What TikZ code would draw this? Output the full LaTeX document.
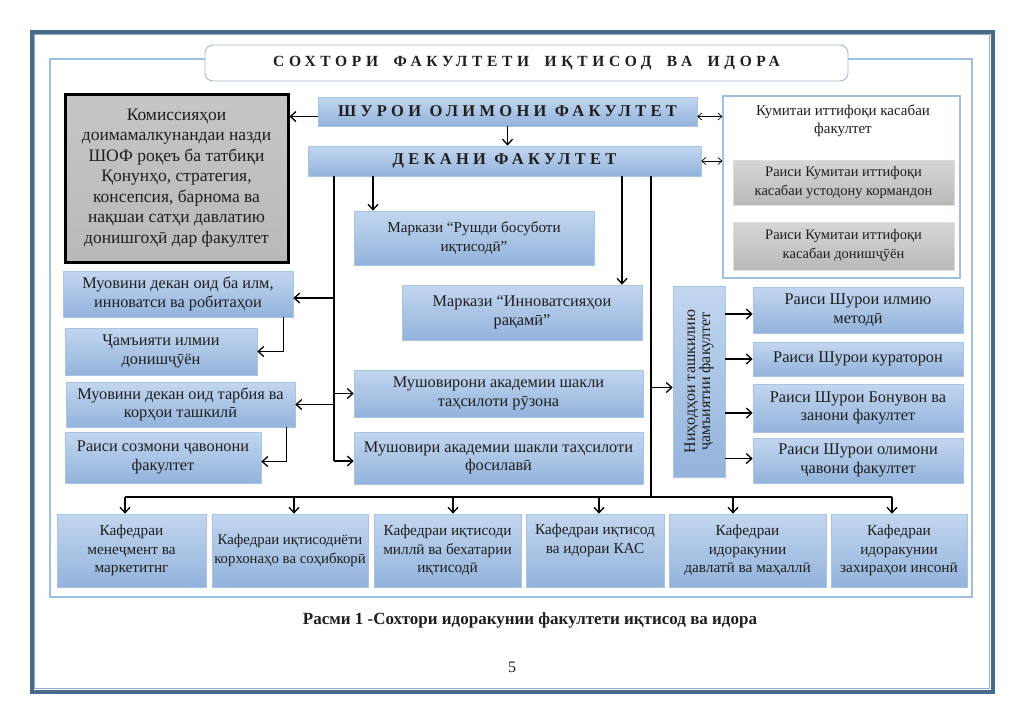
\documentclass[tikz,border=0pt]{standalone}
\usepackage{fontspec}
\usepackage{graphicx}
\setmainfont{Liberation Serif}
\newfontfamily\spacedA[LetterSpace=30]{Liberation Serif}
\newfontfamily\spacedB[LetterSpace=26]{Liberation Serif}
\usetikzlibrary{arrows.meta,calc}
\definecolor{btop}{HTML}{C2D6EF}
\definecolor{bbot}{HTML}{93B3DC}
\definecolor{bbord}{HTML}{A9C3E4}
\definecolor{gtop}{HTML}{D6D6D6}
\definecolor{gbot}{HTML}{B9B9B9}
\definecolor{frameout}{HTML}{4A6A8A}
\definecolor{framein}{HTML}{8FAAC4}
\definecolor{lframe}{HTML}{9DC1E2}
\definecolor{txt}{HTML}{1E1E1E}
\begin{document}
\begin{tikzpicture}[x=1pt,y=-1pt,
  bbox/.style={draw=bbord, line width=0.6pt, top color=btop, bottom color=bbot, text=txt, align=center, inner sep=1pt, font=\fontsize{16.3}{18.5}\selectfont},
  gbox/.style={draw=gtop!80!white, line width=0.6pt, top color=gtop, bottom color=gbot, text=txt, align=center, inner sep=1pt, font=\fontsize{14.5}{19}\selectfont},
  plain/.style={text=txt, align=center, inner sep=1pt},
  arr/.style={line width=1.3pt, -{Straight Barb[length=5.5pt,width=10pt,line width=1.3pt]}},
  dbl/.style={line width=0.7pt, {Straight Barb[length=4pt,width=7pt,line width=0.7pt]}-{Straight Barb[length=4pt,width=7pt,line width=0.7pt]}},
  trunk/.style={line width=1.3pt}
]
\useasboundingbox (0,0) rectangle (1024,724);
\fill[white] (0,0) rectangle (1024,724);
% page frames
\draw[frameout, line width=4pt] (31.5,31.5) rectangle (992.5,691.5);
\draw[framein, line width=1pt] (34.8,34.8) rectangle (989.2,688.2);
\draw[lframe, line width=1.2pt] (50,59) rectangle (972,597);

% title
\node[draw=lframe!80!black!70, line width=0.9pt, rounded corners=8pt, fill=white, minimum width=643pt, minimum height=36pt, text=txt, font=\fontsize{15.5}{18}\spacedA\bfseries] (title) at (526.5,63) {СОХТОРИ\hspace{7pt} ФАКУЛТЕТИ\hspace{7pt} ИҚТИСОД\hspace{7pt} ВА\hspace{7pt} ИДОРА};

% commission
\node[draw=black, line width=3pt, top color=gray!45, bottom color=gray!55, text=txt, align=center, minimum width=223pt, minimum height=168pt, font=\fontsize{17.5}{20.5}\selectfont] (comm) at (176.5,178) {Комиссияҳои\\доимамалкунандаи назди\\ШОФ роқеъ ба татбиқи\\Қонунҳо, стратегия,\\консепсия, барнома ва\\нақшаи сатҳи давлатию\\донишгоҳӣ дар факултет};

% shuro & dekan
\node[bbox, minimum width=379pt, minimum height=29pt, font=\fontsize{16.5}{18}\spacedB\bfseries] (shuro) at (507.5,111.5) {ШУРОИ ОЛИМОНИ ФАКУЛТЕТ};
\node[bbox, minimum width=393pt, minimum height=30pt, font=\fontsize{16.5}{18}\spacedB\bfseries] (dekan) at (504.5,161) {ДЕКАНИ ФАКУЛТЕТ};

% kumita
\node[draw=lframe, line width=1.2pt, fill=white, minimum width=237pt, minimum height=182pt] (kum) at (841.5,187) {};
\node[plain, font=\fontsize{15}{18}\selectfont] (kumt) at (843,121) {Кумитаи иттифоқи касабаи\\факултет};
\node[gbox, minimum width=221pt, minimum height=45pt] (g1) at (843.5,182.5) {Раиси Кумитаи иттифоқи\\касабаи устодону кормандон};
\node[gbox, minimum width=221pt, minimum height=48pt] (g2) at (843.5,246) {Раиси Кумитаи иттифоқи\\касабаи донишҷӯён};

% centers
\node[bbox, minimum width=240pt, minimum height=54pt, font=\fontsize{15.2}{18.5}\selectfont] (rushd) at (474,238) {Маркази “Рушди босуботи\\иқтисодӣ”};
\node[bbox, minimum width=240pt, minimum height=55pt] (innov) at (522,312.5) {Маркази “Инноватсияҳои\\рақамӣ”};

% left column
\node[bbox, minimum width=230pt, minimum height=46pt] (muov1) at (178,294) {Муовини декан оид ба илм,\\инноватси ва робитаҳои};
\node[bbox, minimum width=192pt, minimum height=47pt] (jam) at (161,351.5) {Ҷамъияти илмии\\донишҷӯён};
\node[bbox, minimum width=229pt, minimum height=45pt] (muov2) at (180.5,404.5) {Муовини декан оид тарбия ва\\корҳои ташкилӣ};
\node[bbox, minimum width=196pt, minimum height=51pt] (raisi) at (163,457.5) {Раиси созмони ҷавонони\\факултет};

% advisers
\node[bbox, minimum width=289pt, minimum height=47pt] (mush1) at (498.5,393.5) {Мушовирони академии шакли\\таҳсилоти рӯзона};
\node[bbox, minimum width=289pt, minimum height=52pt] (mush2) at (498.5,458) {Мушовири академии шакли таҳсилоти\\фосилавӣ};

% public bodies
\node[bbox, minimum width=52pt, minimum height=191pt, font=\fontsize{16}{18}\selectfont] (nihod) at (699,381.5) {\rotatebox{90}{\begin{tabular}{@{}c@{}}Ниҳодҳои ташкилию\\[-3pt]ҷамъиятии факултет\end{tabular}}};
\node[bbox, minimum width=210pt, minimum height=46pt] (r1) at (858,310) {Раиси Шурои илмию\\методӣ};
\node[bbox, minimum width=210pt, minimum height=34pt] (r2) at (858,359) {Раиси Шурои кураторон};
\node[bbox, minimum width=210pt, minimum height=48pt] (r3) at (858,408) {Раиси Шурои Бонувон ва\\занони факултет};
\node[bbox, minimum width=210pt, minimum height=45pt] (r4) at (858,460.5) {Раиси Шурои олимони\\ҷавони факултет};

% departments
\tikzset{kbox/.style={bbox, minimum height=73pt, font=\fontsize{15.3}{18.5}\selectfont}}
\node[kbox, minimum width=149pt] (k1) at (131.5,550.5) {Кафедраи\\менеҷмент ва\\маркетитнг};
\node[kbox, minimum width=156pt, font=\fontsize{14.8}{18.5}\selectfont] (k2) at (290,550.5) {Кафедраи иқтисодиёти\\корхонаҳо ва соҳибкорӣ};
\node[kbox, minimum width=147pt] (k3) at (447.5,550.5) {Кафедраи иқтисоди\\миллӣ ва бехатарии\\иқтисодӣ};
\node[kbox, minimum width=138pt] (k4) at (595,550.5) {Кафедраи иқтисод\\ва идораи КАС\\\strut};
\node[kbox, minimum width=157pt] (k5) at (747.5,550.5) {Кафедраи\\идоракунии\\давлатӣ ва маҳаллӣ};
\node[kbox, minimum width=136pt] (k6) at (899,550.5) {Кафедраи\\идоракунии\\захираҳои инсонӣ};

% caption & page number
\node[plain, font=\fontsize{17}{20}\selectfont\bfseries] (cap) at (530,620) {Расми 1 -Сохтори идоракунии факултети иқтисод ва идора};
\node[plain, font=\fontsize{16}{18}\selectfont] (pnum) at (512,667) {5};

% coordinates
\coordinate (xL) at (334,0);
\coordinate (xR) at (373,0);
\coordinate (xI) at (622,0);
\coordinate (xB) at (651,0);
\coordinate (vL) at (334,461);
\coordinate (busL) at (125,497);
\coordinate (busR) at (892,497);

% connectors top
\draw[arr] ([yshift=-5pt]shuro.west) -- ([yshift=-5pt]shuro.west -| comm.east);
\draw[arr] (shuro.south) -- (shuro.south |- dekan.north);
\draw[dbl] ([yshift=-5pt]shuro.east) -- ([yshift=-5pt]shuro.east -| kum.west);
\draw[dbl] (dekan.east) -- (dekan.east -| kum.west);

% trunks
\draw[trunk] (dekan.south -| xL) -- (vL);
\draw[arr] (dekan.south -| xR) -- (rushd.north -| xR);
\draw[arr] (dekan.south -| xI) -- (innov.north -| xI);
\draw[trunk] (dekan.south -| xB) -- (busL -| xB);
\draw[trunk] (busL) -- (busR);

% left branches
\draw[arr] ([yshift=-4pt]muov1.east -| xL) -- ([yshift=-4pt]muov1.east);
\draw[arr] (muov2.east -| xL) -- (muov2.east);
\draw[arr] (mush1.west -| xL) -- (mush1.west);
\draw[arr] (vL) -- (vL -| mush2.west);
\draw[arr] ([xshift=-10pt]muov1.south east) |- (jam.east);
\draw[arr] ([xshift=-9pt]muov2.south east) |- ([yshift=-4pt]raisi.east);

% right branches
\draw[arr] ([yshift=-6pt]nihod.west -| xB) -- ([yshift=-6pt]nihod.west);
\draw[arr] ([yshift=-4pt]r1.west -| nihod.east) -- ([yshift=-4pt]r1.west);
\draw[arr] (r2.west -| nihod.east) -- (r2.west);
\draw[arr] ([yshift=-5pt]r3.west -| nihod.east) -- ([yshift=-5pt]r3.west);
\draw[arr] ([yshift=2pt]r4.west -| nihod.east) -- ([yshift=2pt]r4.west);

% departments
\draw[arr] (busL) -- (busL |- k1.north);
\draw[arr] ([xshift=4pt]k2.north |- busL) -- ([xshift=4pt]k2.north);
\draw[arr] ([xshift=5.5pt]k3.north |- busL) -- ([xshift=5.5pt]k3.north);
\draw[arr] ([xshift=4pt]k4.north |- busL) -- ([xshift=4pt]k4.north);
\draw[arr] ([xshift=-14.5pt]k5.north |- busL) -- ([xshift=-14.5pt]k5.north);
\draw[arr] (busR) -- (busR |- k6.north);
\end{tikzpicture}
\end{document}
